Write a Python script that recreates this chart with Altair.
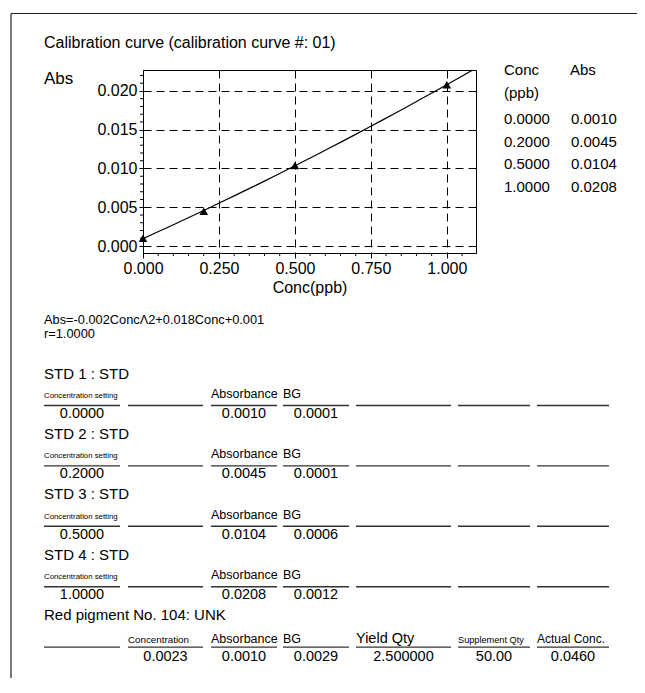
import altair as alt
import pandas as pd

# ---------------- data ----------------
conc = [0.0, 0.2, 0.5, 1.0]
absorb = [0.0010, 0.0045, 0.0104, 0.0208]
conc_txt = ["0.0000", "0.2000", "0.5000", "1.0000"]
abs_txt = ["0.0010", "0.0045", "0.0104", "0.0208"]

x_ticks = [0.0, 0.25, 0.5, 0.75, 1.0]
y_ticks = [0.0, 0.005, 0.010, 0.015, 0.020]
x_minor = [0.05, 0.10, 0.15, 0.20, 0.30, 0.35, 0.40, 0.45, 0.55, 0.60, 0.65,
           0.70, 0.80, 0.85, 0.90, 0.95, 1.05]
y_minor = [0.001, 0.002, 0.003, 0.004, 0.006, 0.007, 0.008, 0.009, 0.011,
           0.012, 0.013, 0.014, 0.016, 0.017, 0.018, 0.019, 0.021, 0.022]

title_text = "Calibration curve (calibration curve #: 01)"
equation = "Abs=-0.002Conc\u039b2+0.018Conc+0.001"
r_text = "r=1.0000"

std_names = ["STD 1 : STD", "STD 2 : STD", "STD 3 : STD", "STD 4 : STD"]
std_conc = ["0.0000", "0.2000", "0.5000", "1.0000"]
std_abs = ["0.0010", "0.0045", "0.0104", "0.0208"]
std_bg = ["0.0001", "0.0001", "0.0006", "0.0012"]
std_headers = ["Concentration setting", "", "Absorbance", "BG", "", "", ""]

unk_name = "Red pigment No. 104: UNK"
unk_headers = ["", "Concentration", "Absorbance", "BG", "Yield Qty",
               "Supplement Qty", "Actual Conc."]
unk_values = ["", "0.0023", "0.0010", "0.0029", "2.500000", "50.00", "0.0460"]

# ---------------- layout (page pixels) ----------------
FONT = "Liberation Sans, Arial, sans-serif"
PL, PT, W, H = 143, 70, 333, 183
TOTAL_W, TOTAL_H = 629, 670
col_l = [44, 128, 211, 283, 356, 458, 537]
col_r = [120, 203, 277, 349, 451, 530, 609]
line0, line_step = 405.5, 60.4

one = alt.Data(values=[{"t": 0}])


def label(text, px, py, size, align="left", font=FONT):
    return alt.Chart(alt.Data(values=[{"t": text}])).mark_text(
        align=align, baseline="alphabetic", fontSize=size, font=font,
        color="black").encode(
        x=alt.value(px - PL), y=alt.value(py - PT), text="t:N")


def hline(x1, x2, y, width=1.4, color="#333333"):
    return alt.Chart(one).mark_rule(color=color, strokeWidth=width).encode(
        x=alt.value(x1 - PL), x2=alt.value(x2 - PL), y=alt.value(y - PT))


def vline(x, y1, y2, width=1.2, color="#333333"):
    return alt.Chart(one).mark_rule(color=color, strokeWidth=width).encode(
        x=alt.value(x - PL), y=alt.value(y1 - PT), y2=alt.value(y2 - PT))


# ---------------- calibration plot ----------------
xs = alt.Scale(domain=[0, 1.096], nice=False, zero=False)
ys = alt.Scale(domain=[-0.0009, 0.0227], nice=False, zero=False)

x_axis = alt.Axis(values=x_ticks, format=".3f", labelFont=FONT, labelFontSize=16,
                  labelColor="black", labelPadding=2, labelFlush=False,
                  labelOverlap=False, tickSize=5, tickColor="black",
                  domainColor="black", grid=True, gridColor="black",
                  gridDash=[8, 5], gridOpacity=1, gridWidth=1,
                  title="Conc(ppb)", titleFont=FONT, titleFontSize=16,
                  titleFontWeight="normal", titleColor="black", titlePadding=3)
y_axis = alt.Axis(values=y_ticks, format=".3f", labelFont=FONT, labelFontSize=16,
                  labelColor="black", labelPadding=2, labelFlush=False,
                  labelOverlap=False, tickSize=4, tickColor="black",
                  domainColor="black", grid=True, gridColor="black",
                  gridDash=[8, 5], gridOpacity=1, gridWidth=1, title="")

cal = pd.DataFrame({"conc": conc, "abs": absorb})

curve = alt.Chart(cal).transform_regression(
    "conc", "abs", method="poly", order=2, extent=[0, 1.096]
).mark_line(color="black", strokeWidth=1.2, clip=True).encode(
    x=alt.X("conc:Q", scale=xs, axis=x_axis),
    y=alt.Y("abs:Q", scale=ys, axis=y_axis))

pts = alt.Chart(cal).mark_point(shape="triangle-up", filled=True, color="black",
                                opacity=1, size=75).encode(
    x=alt.X("conc:Q", scale=xs, title="Conc(ppb)"),
    y=alt.Y("abs:Q", scale=ys, title=""))

xminor = alt.Chart(pd.DataFrame({"conc": x_minor})).mark_rule(
    color="black", strokeWidth=1).encode(
    x=alt.X("conc:Q", scale=xs, title="Conc(ppb)"),
    y=alt.value(H), y2=alt.value(H + 3))

yminor = alt.Chart(pd.DataFrame({"abs": y_minor})).mark_rule(
    color="black", strokeWidth=1).encode(
    y=alt.Y("abs:Q", scale=ys, title=""),
    x=alt.value(-3), x2=alt.value(0))

layers = [curve, xminor, yminor, pts]

# ---------------- page frame and texts ----------------
layers.append(hline(11, 8 + TOTAL_W, 13.5, width=1.2, color="#222222"))
layers.append(vline(11, 13.5, 8 + TOTAL_H, width=1.2, color="#222222"))

layers.append(label(title_text, 44, 48, 16))
layers.append(label("Abs", 44, 84, 17))

# side table
layers.append(label("Conc", 504, 74.5, 15))
layers.append(label("Abs", 570, 74.5, 15))
layers.append(label("(ppb)", 504, 98, 15))
for i in range(len(conc_txt)):
    yb = 124 + 22.6 * i
    layers.append(label(conc_txt[i], 504, yb, 15))
    layers.append(label(abs_txt[i], 571, yb, 15))

# equation
layers.append(label(equation, 44, 324, 12.8))
layers.append(label(r_text, 44, 338, 12.8))

# standards
for i in range(len(std_names)):
    ly = line0 + line_step * i
    layers.append(label(std_names[i], 44, ly - 27, 15))
    layers.append(label(std_headers[0], col_l[0], ly - 7.5, 7.8))
    layers.append(label(std_headers[2], col_l[2], ly - 7.5, 12.5))
    layers.append(label(std_headers[3], col_l[3], ly - 7.5, 12.5))
    for c in range(7):
        layers.append(hline(col_l[c], col_r[c], ly))
    vals = [std_conc[i], "", std_abs[i], std_bg[i]]
    for c, v in enumerate(vals):
        if v:
            layers.append(label(v, (col_l[c] + col_r[c]) / 2, ly + 12.5, 14.5,
                                align="center"))

# unknown sample
ly = line0 + line_step * 4
layers.append(label(unk_name, 44, ly - 27, 15))
unk_sizes = [12, 9.8, 12.5, 12.5, 14.5, 9.2, 12]
for c in range(7):
    layers.append(hline(col_l[c], col_r[c], ly))
    if unk_headers[c]:
        layers.append(label(unk_headers[c], col_l[c], ly - 4.5, unk_sizes[c]))
    if unk_values[c]:
        layers.append(label(unk_values[c], (col_l[c] + col_r[c]) / 2, ly + 14,
                            14.5, align="center"))

chart = alt.layer(*layers).properties(
    width=W, height=H,
    autosize=alt.AutoSizeParams(type="none"),
    padding={"left": PL - 8, "top": PT - 8, "right": TOTAL_W - (PL - 8) - W,
             "bottom": TOTAL_H - (PT - 8) - H},
    background="white",
).configure_view(stroke="black", strokeWidth=1)

chart.save("out.html", embed_options={"renderer": "svg", "actions": False})
